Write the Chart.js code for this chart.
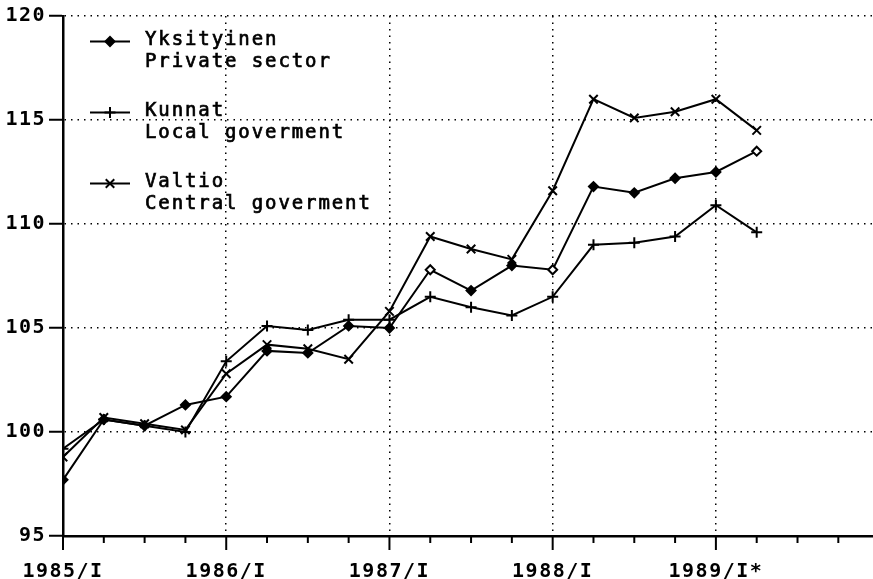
<!DOCTYPE html>
<html>
<head>
<meta charset="utf-8">
<script src="https://cdn.jsdelivr.net/npm/chart.js@4/dist/chart.umd.min.js"></script>
<style>
  html, body { margin: 0; padding: 0; background: #fff; }
  #wrap { width: 873px; height: 579px; position: relative; }
</style>
</head>
<body>
<div id="wrap"><canvas id="c" width="873" height="579"></canvas></div>
<script>
// ---- data ----
const quarters = ['1985/I','1985/II','1985/III','1985/IV','1986/I','1986/II','1986/III','1986/IV',
                  '1987/I','1987/II','1987/III','1987/IV','1988/I','1988/II','1988/III','1988/IV',
                  '1989/I','1989/II'];
const yearTickLabels = ['1985/I','1986/I','1987/I','1988/I','1989/I*'];
const yTicks = [95, 100, 105, 110, 115, 120];

const seriesFi = ['Yksityinen', 'Kunnat', 'Valtio'];
const seriesEn = ['Private sector', 'Local goverment', 'Central goverment'];

const privateSector = [97.7,100.6,100.3,101.3,101.7,103.9,103.8,105.1,105.0,107.8,106.8,108.0,107.8,111.8,111.5,112.2,112.5,113.5];
const localGov      = [99.2,100.6,100.3,100.0,103.4,105.1,104.9,105.4,105.4,106.5,106.0,105.6,106.5,109.0,109.1,109.4,110.9,109.6];
const centralGov    = [98.8,100.7,100.4,100.1,102.8,104.2,104.0,103.5,105.8,109.4,108.8,108.3,111.6,116.0,115.1,115.4,116.0,114.5];

const FONT_AXIS = { family: "'DejaVu Sans Mono', monospace", size: 20, weight: 'bold' };
const hollowPrivate = new Set([9, 12, 17]);

function toXY(arr) { return arr.map((v, i) => ({ x: i, y: v })); }

const datasets = [
  { label: seriesFi[0], data: toXY(privateSector), pointStyle: 'rectRot', pointRadius: 4.5,
    pointBackgroundColor: c => hollowPrivate.has(c.dataIndex) ? '#fff' : '#000' },
  { label: seriesFi[1], data: toXY(localGov), pointStyle: 'cross', pointRadius: 5.5, pointBackgroundColor: '#000' },
  { label: seriesFi[2], data: toXY(centralGov), pointStyle: 'crossRot', pointRadius: 6, pointBackgroundColor: '#000' }
].map(d => Object.assign({
  borderColor: '#000', borderWidth: 2, pointBorderColor: '#000', pointBorderWidth: 2,
  tension: 0, fill: false
}, d));

const spacingPlugin = {
  id: 'spacing',
  beforeLayout(chart) { chart.ctx.letterSpacing = '1.5px'; },
  beforeDraw(chart) { chart.ctx.letterSpacing = '1.5px'; }
};

const tickPlugin = {
  id: 'xTicks',
  afterDraw(chart) {
    const xs = chart.scales.x, ctx = chart.ctx;
    ctx.save();
    ctx.strokeStyle = '#000';
    ctx.lineWidth = 2;
    ctx.setLineDash([]);
    xs.ticks.forEach(t => {
      const px = xs.getPixelForValue(t.value);
      const len = (t.value % 4 === 0) ? 14 : 7;
      ctx.beginPath();
      ctx.moveTo(px, xs.top);
      ctx.lineTo(px, xs.top + len);
      ctx.stroke();
    });
    ctx.restore();
  }
};

const legendPlugin = {
  id: 'customLegend',
  afterDraw(chart) {
    const ctx = chart.ctx;
    ctx.save();
    ctx.letterSpacing = '1.9px';
    ctx.font = "19px 'DejaVu Sans Mono', monospace";
    ctx.textAlign = 'left';
    ctx.textBaseline = 'middle';
    chart.data.datasets.forEach((ds, i) => {
      const y = 41.5 + 71 * i;
      ctx.strokeStyle = '#000';
      ctx.lineWidth = 2;
      ctx.beginPath();
      ctx.moveTo(90, y);
      ctx.lineTo(130, y);
      ctx.stroke();
      ctx.fillStyle = '#000';
      Chart.helpers.drawPoint(ctx, { pointStyle: ds.pointStyle, radius: ds.pointRadius, borderWidth: 2 }, 110, y);
      ctx.fillStyle = '#000';
      ctx.lineWidth = 0.7;
      ctx.fillText(seriesFi[i], 145, y - 1.5);
      ctx.strokeText(seriesFi[i], 145, y - 1.5);
      ctx.fillText(seriesEn[i], 145, y + 21);
      ctx.strokeText(seriesEn[i], 145, y + 21);
    });
    ctx.restore();
  }
};

new Chart(document.getElementById('c'), {
  type: 'line',
  data: { datasets },
  plugins: [spacingPlugin, tickPlugin, legendPlugin],
  options: {
    responsive: false,
    animation: false,
    devicePixelRatio: 1,
    layout: { autoPadding: false, padding: { top: 16, right: 0, left: 0, bottom: 0 } },
    plugins: { legend: { display: false }, tooltip: { enabled: false } },
    scales: {
      x: {
        type: 'linear',
        min: 0,
        max: 19.85,
        afterFit(s) { s.height = 43; s.paddingRight = 0; s.paddingLeft = 0; },
        ticks: {
          stepSize: 1,
          includeBounds: false,
          autoSkip: false,
          maxRotation: 0,
          padding: 10,
          color: '#000',
          font: FONT_AXIS,
          callback: v => (v % 4 === 0 && v / 4 < yearTickLabels.length) ? yearTickLabels[v / 4] : ''
        },
        grid: {
          color: c => (c.tick && c.tick.value % 4 === 0 && c.tick.value !== 0) ? '#000' : 'rgba(0,0,0,0)',
          lineWidth: 1.5,
          tickLength: 14,
          tickColor: 'rgba(0,0,0,0)'
        },
        border: { display: true, color: '#000', width: 2.5, dash: [1.5, 5] }
      },
      y: {
        min: 95,
        max: 120,
        afterFit(s) { s.width = 63; },
        afterBuildTicks(s) { s.ticks = yTicks.map(v => ({ value: v })); },
        ticks: {
          stepSize: 5,
          padding: 3,
          color: '#000',
          font: FONT_AXIS
        },
        grid: {
          color: c => (c.tick && c.tick.value !== 95) ? '#000' : 'rgba(0,0,0,0)',
          lineWidth: 1.5,
          tickLength: 14,
          tickColor: '#000',
          tickWidth: 2
        },
        border: { display: true, color: '#000', width: 2.5, dash: [1.5, 5] }
      }
    }
  }
});
</script>
</body>
</html>
